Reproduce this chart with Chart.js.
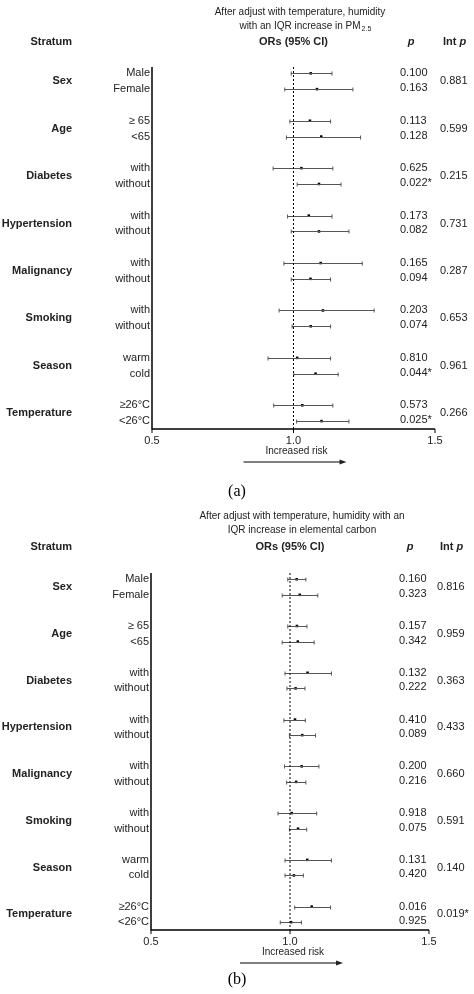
<!DOCTYPE html>
<html><head><meta charset="utf-8">
<script src="https://cdn.jsdelivr.net/npm/chart.js@4"></script>
<style>body{margin:0;background:#fff}canvas{display:block}</style>
</head><body>
<div style="position:relative;width:474px;height:500px"><canvas id="ca"></canvas></div>
<div style="position:relative;width:474px;height:494px"><canvas id="cb"></canvas></div>
<script>
const groups=["Sex","Age","Diabetes","Hypertension","Malignancy","Smoking","Season","Temperature"];
const subLabels=["Male","Female","\u2265 65","<65","with","without","with","without","with","without","with","without","warm","cold","\u226526\u00b0C","<26\u00b0C"];
const xTicks=[0.5,1.0,1.5];
// Panel a (PM2.5)
const orA=[1.061,1.083,1.058,1.098,1.028,1.090,1.054,1.090,1.096,1.060,1.104,1.061,1.013,1.078,1.031,1.099];
const loA=[0.992,0.969,0.987,0.975,0.928,1.013,0.979,0.992,0.966,0.992,0.949,0.995,0.910,1.001,0.930,1.011];
const hiA=[1.136,1.210,1.131,1.237,1.139,1.168,1.136,1.196,1.243,1.131,1.285,1.131,1.131,1.158,1.139,1.196];
const pA=["0.100","0.163","0.113","0.128","0.625","0.022*","0.173","0.082","0.165","0.094","0.203","0.074","0.810","0.044*","0.573","0.025*"];
const intPA=["0.881","0.599","0.215","0.731","0.287","0.653","0.961","0.266"];
// Panel b (elemental carbon)
const orB=[1.024,1.035,1.025,1.028,1.063,1.020,1.018,1.044,1.042,1.022,1.006,1.029,1.062,1.014,1.078,1.004];
const loB=[0.992,0.972,0.992,0.972,0.982,0.989,0.978,0.998,0.980,0.988,0.957,0.998,0.982,0.982,1.017,0.965];
const hiB=[1.057,1.100,1.061,1.087,1.149,1.054,1.055,1.092,1.104,1.057,1.096,1.060,1.149,1.048,1.146,1.041];
const pB=["0.160","0.323","0.157","0.342","0.132","0.222","0.410","0.089","0.200","0.216","0.918","0.075","0.131","0.420","0.016","0.925"];
const intPB=["0.816","0.959","0.363","0.433","0.660","0.591","0.140","0.019*"];

const rowY=i=>Math.floor(i/2)*3+(i%2);
const F="'Liberation Sans', Arial, sans-serif";

function makeChart(id,h,pad,or,lo,hi,p,intP,cfg){
  const el=document.getElementById(id);
  const forest={id:'forest',afterDraw(c){
    const ctx=c.ctx,xs=c.scales.x,ys=c.scales.y,a=c.chartArea;
    ctx.save();
    // CI lines
    ctx.strokeStyle='#555';ctx.lineWidth=1;
    or.forEach((v,i)=>{const y=Math.round(ys.getPixelForValue(rowY(i)))+0.5;
      const x1=xs.getPixelForValue(lo[i]),x2=xs.getPixelForValue(hi[i]);
      ctx.beginPath();ctx.moveTo(x1,y);ctx.lineTo(x2,y);
      ctx.moveTo(x1,y-2);ctx.lineTo(x1,y+2);ctx.moveTo(x2,y-2);ctx.lineTo(x2,y+2);ctx.stroke();});
    // dashed ref line
    ctx.strokeStyle='#000';ctx.setLineDash([2,2]);ctx.beginPath();
    const x1=xs.getPixelForValue(1);ctx.moveTo(x1,a.top);ctx.lineTo(x1,a.bottom);ctx.stroke();ctx.setLineDash([]);
    // axes
    ctx.lineWidth=1.5;ctx.beginPath();ctx.moveTo(a.left,a.top);ctx.lineTo(a.left,a.bottom);ctx.lineTo(a.right,a.bottom);ctx.stroke();
    ctx.lineWidth=1;ctx.font='11px '+F;ctx.fillStyle='#222';ctx.textAlign='center';ctx.textBaseline='top';
    xTicks.forEach(t=>{const x=xs.getPixelForValue(t);ctx.beginPath();ctx.moveTo(x,a.bottom);ctx.lineTo(x,a.bottom+4);ctx.stroke();ctx.fillText(t.toFixed(1),x,a.bottom+6);});
    ctx.font='10px '+F;ctx.fillText('Increased risk',x1+3,a.bottom+17);
    const ay=a.bottom+cfg.arrowDy;ctx.beginPath();ctx.moveTo(x1-50,ay);ctx.lineTo(x1+48,ay);ctx.stroke();
    ctx.beginPath();ctx.moveTo(x1+53,ay);ctx.lineTo(x1+46,ay-2.5);ctx.lineTo(x1+46,ay+2.5);ctx.closePath();ctx.fill();
    // labels
    ctx.textBaseline='middle';
    ctx.font='11px '+F;ctx.textAlign='right';
    subLabels.forEach((s,i)=>ctx.fillText(s,a.left-2,ys.getPixelForValue(rowY(i))));
    ctx.textAlign='left';
    p.forEach((s,i)=>ctx.fillText(s,cfg.px,ys.getPixelForValue(rowY(i))+(i%2?-1:0)));
    intP.forEach((s,g)=>ctx.fillText(s,cfg.ix,ys.getPixelForValue(g*3+0.5)));
    ctx.font='bold 11px '+F;ctx.textAlign='right';
    groups.forEach((s,g)=>ctx.fillText(s,72,ys.getPixelForValue(g*3+0.5)));
    // headers
    ctx.fillText('Stratum',72,cfg.hy);
    ctx.textAlign='center';ctx.fillText('ORs (95% CI)',x1,cfg.hy);
    ctx.font='bold italic 11px '+F;ctx.fillText('p',cfg.px+11,cfg.hy);
    ctx.textAlign='left';ctx.font='bold 11px '+F;ctx.fillText('Int ',cfg.ix+3,cfg.hy);
    const w=ctx.measureText('Int ').width;ctx.font='bold italic 11px '+F;ctx.fillText('p',cfg.ix+3+w,cfg.hy);
    ctx.font='10px '+F;ctx.textAlign='center';ctx.fillStyle='#222';
    cfg.title.forEach((t,k)=>ctx.fillText(t,cfg.tx,cfg.ty+k*14));
    if(cfg.sub){const m=ctx.measureText(cfg.title[1]).width;ctx.font='7px '+F;ctx.textAlign='left';ctx.fillText(cfg.sub,cfg.tx+m/2+1,cfg.ty+17);}
    ctx.font='16px "Liberation Serif", serif';ctx.textAlign='center';ctx.fillStyle='#000';ctx.fillText(cfg.lab,237,cfg.labY);
    ctx.restore();
  }};
  return new Chart(el,{type:'scatter',
    data:{datasets:[{data:or.map((v,i)=>({x:v,y:rowY(i)})),pointStyle:'rect',pointRadius:1.8,backgroundColor:'#000',borderColor:'#000',borderWidth:0}]},
    options:{responsive:true,maintainAspectRatio:false,animation:false,events:[],
      layout:{padding:pad},
      plugins:{legend:{display:false},tooltip:{enabled:false}},
      scales:{x:{type:'linear',min:0.5,max:1.5,display:false},
              y:{type:'linear',min:-0.4,max:22.5,reverse:true,display:false}}},
    plugins:[forest]});
}
document.getElementById('ca').parentNode.style.height='500px';
makeChart('ca',500,{top:67,bottom:71,left:152,right:39},orA,loA,hiA,pA,intPA,
  {px:400,ix:440,hy:42,tx:300,ty:12,title:['After adjust with temperature, humidity','with an IQR increase in PM'],sub:'2.5',lab:'(a)',labY:492,arrowDy:33});
makeChart('cb',494,{top:73,bottom:64,left:151,right:45},orB,loB,hiB,pB,intPB,
  {px:399,ix:437,hy:47,tx:302,ty:16,title:['After adjust with temperature, humidity with an','IQR increase in elemental carbon'],lab:'(b)',labY:480,arrowDy:33});
</script>
</body></html>
